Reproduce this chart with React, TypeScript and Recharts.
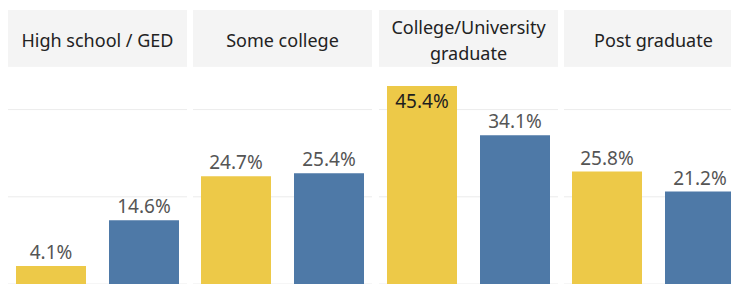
import React from "react";
import { BarChart, Bar, XAxis, YAxis, CartesianGrid, LabelList } from "recharts";

const categories = ["High school / GED", "Some college", "College/University graduate", "Post graduate"];
const yellowValues = [4.1, 24.7, 45.4, 25.8];
const blueValues = [14.6, 25.4, 34.1, 21.2];
const gridTicks = [0, 20, 40];
const yDomain: [number, number] = [0, 50];

const YELLOW = "#EDC948";
const BLUE = "#4E79A7";
const FONT = "'Noto Sans', 'Open Sans', sans-serif";

const PANEL_LEFT0 = 8;
const PANEL_PITCH = 185.33;
const PANEL_W = 179;
const HEADER_TOP = 10;
const HEADER_H = 56;
const CHART_TOP = 66;
const CHART_H = 218;

const ValueLabel = (props: any) => {
  const { x, y, width, value } = props;
  const cx = Number(x) + Number(width) / 2;
  const top = Number(y);
  const inside = top < 24;
  return (
    <text
      x={cx}
      y={inside ? top + 22 : top - 7}
      textAnchor="middle"
      fill={inside ? "#1e1e1e" : "#555555"}
      fontSize={19}
      fontFamily={FONT}
    >
      {`${Number(value).toFixed(1)}%`}
    </text>
  );
};

export default function App() {
  return (
    <div
      style={{
        position: "fixed",
        left: 0,
        top: 0,
        width: 731,
        height: 284,
        overflow: "hidden",
        background: "#ffffff",
        fontFamily: FONT,
      }}
    >
      {categories.map((cat, i) => {
        const left = Math.round(PANEL_LEFT0 + i * PANEL_PITCH);
        const data = [{ name: cat, yellow: yellowValues[i], blue: blueValues[i] }];
        return (
          <React.Fragment key={cat}>
            <div
              style={{
                position: "absolute",
                left,
                top: HEADER_TOP,
                width: PANEL_W,
                height: HEADER_H,
                background: "#f4f4f4",
                display: "flex",
                alignItems: "center",
                justifyContent: "center",
                textAlign: "center",
                boxSizing: "border-box",
                padding: "4px 6px 0 6px",
                fontSize: 18,
                lineHeight: "26px",
                color: "#222222",
              }}
            >
              {cat}
            </div>
            <div style={{ position: "absolute", left, top: CHART_TOP, width: PANEL_W, height: CHART_H }}>
              <BarChart
                width={PANEL_W}
                height={CHART_H}
                data={data}
                margin={{ top: 0, right: 0, bottom: 0, left: 0 }}
                barGap={23}
                barSize={70}
              >
                <CartesianGrid vertical={false} stroke="#ececec" />
                <XAxis dataKey="name" hide />
                <YAxis hide domain={yDomain} ticks={gridTicks} />
                <Bar dataKey="yellow" fill={YELLOW} isAnimationActive={false}>
                  <LabelList dataKey="yellow" content={ValueLabel} />
                </Bar>
                <Bar dataKey="blue" fill={BLUE} isAnimationActive={false}>
                  <LabelList dataKey="blue" content={ValueLabel} />
                </Bar>
              </BarChart>
            </div>
          </React.Fragment>
        );
      })}
    </div>
  );
}
